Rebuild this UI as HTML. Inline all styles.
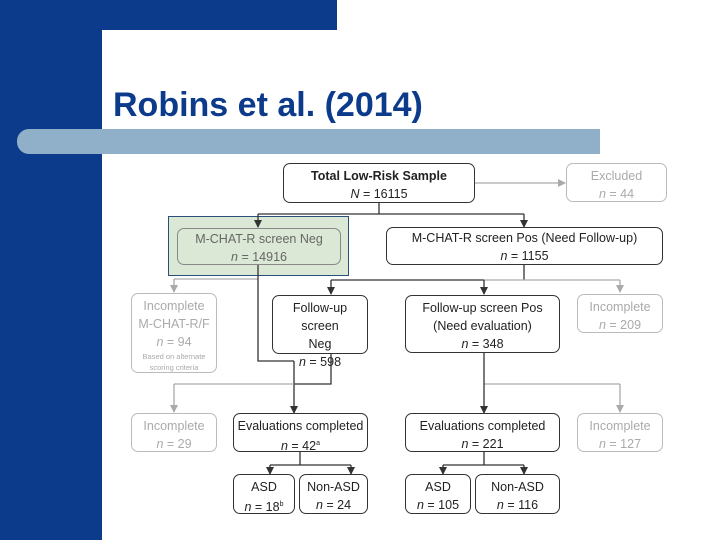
<!DOCTYPE html>
<html><head><meta charset="utf-8"><style>
body{margin:0;width:720px;height:540px;position:relative;overflow:hidden;background:#fff;font-family:"Liberation Sans",sans-serif}
.b{position:absolute;box-sizing:border-box;border:1.3px solid #333;border-radius:7px;background:#fff;text-align:center;font-size:12.5px;color:#222;line-height:18px}
.g{border-color:#bbb;color:#aaa}
i{font-style:italic}
</style></head><body>
<div style="position:absolute;left:0;top:0;width:102px;height:540px;background:#0d3b8c"></div>
<div style="position:absolute;left:0;top:0;width:337px;height:30px;background:#0d3b8c"></div>
<div style="position:absolute;left:102px;top:30px;width:100px;height:100px;background:#fff;border-top-left-radius:48px"></div>
<div style="position:absolute;left:17px;top:129px;width:583px;height:25px;background:#8fb0c8;border-radius:12px 0 0 12px"></div>
<div style="position:absolute;left:113px;top:86px;font-size:34px;font-weight:bold;color:#0d3b8c">Robins et al. (2014)</div>

<div style="position:absolute;left:168px;top:216px;width:181px;height:60px;background:#dbe8d5;border:1.3px solid #2a4f7a;box-sizing:border-box"></div>

<svg style="position:absolute;left:0;top:0" width="720" height="540">
<defs><marker id="a" markerWidth="8" markerHeight="8" refX="4" refY="6" orient="auto" markerUnits="userSpaceOnUse"><path d="M0,0 L8,0 L4,7z" fill="#333" transform="rotate(-90 4 4)"/></marker>
<marker id="d" viewBox="0 0 8 8" markerWidth="8" markerHeight="8" refX="4" refY="7" markerUnits="userSpaceOnUse"><path d="M0,0 L8,0 L4,8z" fill="#333"/></marker>
<marker id="dg" viewBox="0 0 8 8" markerWidth="8" markerHeight="8" refX="4" refY="7" markerUnits="userSpaceOnUse"><path d="M0,0 L8,0 L4,8z" fill="#aaa"/></marker>
<marker id="rg" viewBox="0 0 8 8" markerWidth="8" markerHeight="8" refX="7" refY="4" markerUnits="userSpaceOnUse"><path d="M0,0 L8,4 L0,8z" fill="#aaa"/></marker></defs>
<g fill="none" stroke-width="1.3">
<path d="M475,183 H565" stroke="#aaa" marker-end="url(#rg)"/>
<path d="M379,203 V214 M258,214 H524" stroke="#333"/>
<path d="M258,214 V227" stroke="#333" marker-end="url(#d)"/>
<path d="M524,214 V227" stroke="#333" marker-end="url(#d)"/>
<path d="M524,265 V280 M331,280 H484" stroke="#333"/>
<path d="M174,279 H258 M484,280 H620" stroke="#aaa"/>
<path d="M174,279 V292" stroke="#aaa" marker-end="url(#dg)"/>
<path d="M620,280 V292" stroke="#aaa" marker-end="url(#dg)"/>
<path d="M331,280 V294" stroke="#333" marker-end="url(#d)"/>
<path d="M484,280 V294" stroke="#333" marker-end="url(#d)"/>
<path d="M258,265 V361 H294" stroke="#333"/>
<path d="M331,354 V384 H294" stroke="#333"/>
<path d="M294,361 V413" stroke="#333" marker-end="url(#d)"/>
<path d="M174,384 H294 M484,384 H620" stroke="#aaa"/>
<path d="M174,384 V412" stroke="#aaa" marker-end="url(#dg)"/>
<path d="M620,384 V412" stroke="#aaa" marker-end="url(#dg)"/>
<path d="M484,353 V413" stroke="#333" marker-end="url(#d)"/>
<path d="M300,452 V465 M270,465 H351 M484,452 V465 M443,465 H524" stroke="#333"/>
<path d="M270,465 V474" stroke="#333" marker-end="url(#d)"/>
<path d="M351,465 V474" stroke="#333" marker-end="url(#d)"/>
<path d="M443,465 V474" stroke="#333" marker-end="url(#d)"/>
<path d="M524,465 V474" stroke="#333" marker-end="url(#d)"/>
</g></svg>

<div class="b" style="left:283px;top:163px;width:192px;height:40px;padding-top:3px"><b>Total Low-Risk Sample</b><br><i>N</i> = 16115</div>
<div class="b g" style="left:566px;top:163px;width:101px;height:39px;padding-top:3px">Excluded<br><i>n</i> = 44</div>
<div class="b" style="left:177px;top:228px;width:164px;height:37px;padding-top:1px;background:#dbe8d5;border-color:#888;color:#666">M-CHAT-R screen Neg<br><i>n</i> = 14916</div>
<div class="b" style="left:386px;top:227px;width:277px;height:38px;padding-top:1px">M-CHAT-R screen Pos (Need Follow-up)<br><i>n</i> = 1155</div>
<div class="b g" style="left:131px;top:293px;width:86px;height:80px;padding-top:3px">Incomplete<br>M-CHAT-R/F<br><i>n</i> = 94<div style="font-size:7.5px;line-height:11px">Based on alternate<br>scoring criteria</div></div>
<div class="b" style="left:272px;top:295px;width:96px;height:59px;padding-top:3px">Follow-up screen<br>Neg<br><i>n</i> = 598</div>
<div class="b" style="left:405px;top:295px;width:155px;height:58px;padding-top:3px">Follow-up screen Pos<br>(Need evaluation)<br><i>n</i> = 348</div>
<div class="b g" style="left:577px;top:294px;width:86px;height:39px;padding-top:3px">Incomplete<br><i>n</i> = 209</div>
<div class="b g" style="left:131px;top:413px;width:86px;height:39px;padding-top:3px">Incomplete<br><i>n</i> = 29</div>
<div class="b" style="left:233px;top:413px;width:135px;height:39px;padding-top:3px">Evaluations completed<br><i>n</i> = 42<sup style="font-size:7px">a</sup></div>
<div class="b" style="left:405px;top:413px;width:155px;height:39px;padding-top:3px">Evaluations completed<br><i>n</i> = 221</div>
<div class="b g" style="left:577px;top:413px;width:86px;height:39px;padding-top:3px">Incomplete<br><i>n</i> = 127</div>
<div class="b" style="left:233px;top:474px;width:62px;height:40px;padding-top:3px">ASD<br><i>n</i> = 18<sup style="font-size:7px">b</sup></div>
<div class="b" style="left:299px;top:474px;width:69px;height:40px;padding-top:3px">Non-ASD<br><i>n</i> = 24</div>
<div class="b" style="left:405px;top:474px;width:66px;height:40px;padding-top:3px">ASD<br><i>n</i> = 105</div>
<div class="b" style="left:475px;top:474px;width:85px;height:40px;padding-top:3px">Non-ASD<br><i>n</i> = 116</div>
</body></html>
